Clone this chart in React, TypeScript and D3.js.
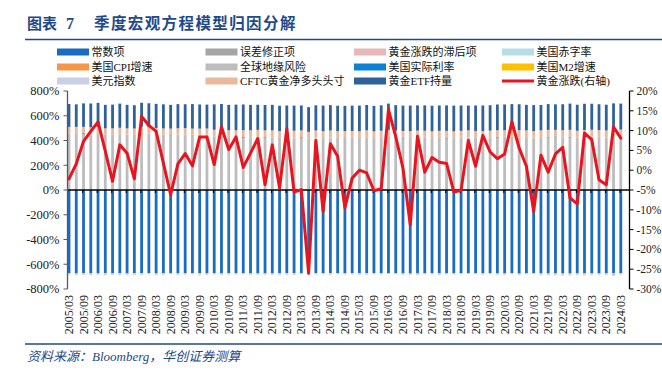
import React from "react";
import * as d3 from "d3";

const quarters = [
  "2005/03","2005/06","2005/09","2005/12","2006/03","2006/06","2006/09","2006/12",
  "2007/03","2007/06","2007/09","2007/12","2008/03","2008/06","2008/09","2008/12",
  "2009/03","2009/06","2009/09","2009/12","2010/03","2010/06","2010/09","2010/12",
  "2011/03","2011/06","2011/09","2011/12","2012/03","2012/06","2012/09","2012/12",
  "2013/03","2013/06","2013/09","2013/12","2014/03","2014/06","2014/09","2014/12",
  "2015/03","2015/06","2015/09","2015/12","2016/03","2016/06","2016/09","2016/12",
  "2017/03","2017/06","2017/09","2017/12","2018/03","2018/06","2018/09","2018/12",
  "2019/03","2019/06","2019/09","2019/12","2020/03","2020/06","2020/09","2020/12",
  "2021/03","2021/06","2021/09","2021/12","2022/03","2022/06","2022/09","2022/12",
  "2023/03","2023/06","2023/09","2023/12","2024/03",
];

// 黄金涨跌(右轴), %
const goldReturn = [
  -2.2, 1.6, 7.3, 9.8, 12.2, 4.8, -2.8, 6.4, 4.3, -2.2,
  13.6, 11.3, 9.8, 1.8, -6.2, 1.6, 4.2, 1.1, 8.4, 8.4,
  1.4, 10.9, 5.2, 8.4, 0.7, 4.3, 8.0, -3.7, 6.4, -4.5,
  10.5, -5.5, -4.9, -26.0, 7.5, -10.4, 6.7, 3.5, -9.5, -2.0,
  0.0, -0.7, -5.2, -4.7, 15.3, 8.5, 0.5, -13.8, 8.6, -0.5,
  3.2, 2.0, 1.7, -5.5, -5.1, 7.5, 1.0, 8.8, 4.6, 2.9,
  4.1, 12.2, 5.6, 1.0, -10.4, 3.8, -0.5, 4.1, 5.8, -7.0,
  -8.5, 9.4, 7.7, -2.4, -3.7, 10.9, 8.1,
];

// 常数项
const constTerm = [
  -672, -672, -672, -672, -672, -672, -672, -672, -672, -672,
  -672, -672, -672, -672, -672, -672, -672, -672, -672, -672,
  -672, -672, -672, -672, -672, -672, -672, -672, -672, -672,
  -672, -672, -672, -672, -672, -672, -672, -672, -672, -672,
  -672, -672, -672, -672, -672, -672, -672, -672, -672, -672,
  -672, -672, -672, -672, -672, -672, -672, -672, -672, -672,
  -672, -672, -672, -672, -672, -672, -672, -672, -672, -672,
  -672, -672, -672, -672, -672, -672, -672,
];

// 误差修正项
const errorCorr = [
  2, 3, 2, 1, 2, 3, 2, 2, 1, 2,
  3, 2, 2, 1, 2, 2, 3, 2, 1, 2,
  2, 3, 2, 2, 1, 2, 2, 3, 2, 1,
  2, 2, 3, 2, 2, 1, 2, 2, 3, 2,
  1, 2, 2, 3, 2, 2, 1, 2, 2, 3,
  2, 1, 2, 2, 3, 2, 2, 1, 2, 2,
  3, 2, 1, 2, 2, 3, 2, 2, 1, 2,
  2, 3, 2, 2, 1, 2, 2,
];

// 黄金涨跌的滞后项
const lagTerm = [
  1, 2, 1, 2, 3, 1, 2, 1, 2, 1,
  3, 2, 1, 2, 1, 2, 1, 2, 2, 1,
  2, 1, 2, 1, 2, 1, 2, 1, 2, 1,
  2, 1, 1, 2, 1, 2, 1, 2, 1, 2,
  1, 2, 1, 2, 3, 2, 1, 2, 1, 2,
  1, 2, 1, 2, 1, 2, 1, 2, 1, 2,
  1, 2, 1, 2, 1, 2, 1, 2, 1, 2,
  1, 2, 1, 2, 1, 2, 1,
];

// 美国赤字率
const deficit = [
  -3, 0, -3, 0, 0, -3, 0, -3, 0, -3,
  -6, 0, 0, -3, 0, 0, -3, 0, -6, 0,
  0, 0, -3, 0, 0, 0, 0, 0, 0, -6,
  -6, -6, 0, -3, 0, 0, -6, 0, 0, 0,
  -3, -6, 0, 0, 0, 0, 0, 0, 0, 0,
  0, -6, 0, 0, 0, 0, 0, 0, 0, 0,
  0, 0, 0, 0, 0, 0, 0, 0, 0, 0,
  0, 0, 0, 0, 0, -5, 0,
];

// 美国CPI增速
const cpi = [
  0, -5, 0, -5, -5, 0, -4, 0, -5, 0,
  0, 0, -5, 0, 0, -4, 0, 0, 0, -5,
  0, -5, 0, 0, 0, -5, -5, -4, -5, 0,
  0, 0, 0, 0, 0, 0, 0, 0, 0, 0,
  0, 0, 0, 0, 0, 0, -5, -6, -5, 0,
  0, 0, 0, 0, 0, 0, 0, 0, 0, -4,
  -5, 0, -7, 0, 0, -5, -5, -5, -6, -6,
  -5, -4, -4, -4, -3, -3, -3,
];

// 全球地缘风险
const geoRisk = [
  450, 448, 452, 451, 454, 446, 444, 448, 445, 442,
  449, 448, 448, 444, 440, 445, 444, 442, 443, 444,
  428, 426, 423, 422, 420, 418, 420, 417, 416, 419,
  421, 415, 417, 414, 415, 416, 416, 417, 416, 418,
  417, 416, 416, 418, 423, 421, 415, 417, 416, 418,
  416, 418, 414, 415, 418, 420, 419, 417, 422, 420,
  426, 425, 421, 423, 415, 422, 422, 423, 421, 421,
  421, 426, 428, 425, 423, 429, 431,
];

// 美国实际利率
const realRate = [
  0, 2, 5, 0, 0, 0, 0, 0, 0, 0,
  4, 0, 0, 0, 5, 0, 0, 0, 0, 0,
  0, 0, 0, 0, 5, 0, 0, 5, 0, 0,
  0, 0, 5, 0, 0, 0, 0, 0, 0, 0,
  0, 0, 0, 0, 0, 0, 4, 0, 0, 0,
  0, 0, 5, 0, 0, 0, 0, 0, 0, 5,
  0, 0, 0, 0, 0, 0, 5, 5, 0, 5,
  0, 0, 0, 0, 0, -4, 0,
];

// 美国M2增速
const m2Growth = [
  5, 0, 0, 0, 0, 0, 0, 0, 0, 0,
  4, 4, 0, 0, 0, 0, 0, 0, -5, 0,
  0, 0, 0, 0, 0, 5, 4, 0, 5, 0,
  0, 5, 0, 0, 5, 0, 5, 0, 0, 0,
  0, 5, 0, 0, 0, 0, 0, 0, 4, 0,
  0, 0, 0, 0, 0, 0, 0, -5, 0, 0,
  0, 5, 4, 0, 5, 0, 0, 0, 5, 0,
  0, -6, -5, 0, 0, 0, 0,
];

// 美元指数
const dollarIndex = [
  -10, -12, -12, -10, -8, -14, -10, -12, -10, -13,
  -9, -10, -11, -12, -10, -12, -11, -10, -8, -10,
  -11, -9, -10, -12, -10, -9, -8, -10, -9, -10,
  -8, -9, -10, -12, -11, -10, -9, -10, -12, -10,
  -11, -8, -10, -11, -9, -10, -8, -9, -10, -11,
  -10, -9, -11, -12, -10, -9, -10, -8, -10, -9,
  -10, -9, -8, -10, -9, -12, -11, -12, -14, -13,
  -10, -9, -8, -10, -11, -9, -8,
];

// CFTC黄金净多头头寸
const cftc = [
  52, 55, 50, 53, 50, 48, 50, 52, 50, 52,
  50, 52, 50, 50, 48, 50, 52, 50, 50, 50,
  55, 57, 56, 58, 55, 56, 58, 56, 57, 55,
  58, 56, 55, 52, 58, 56, 57, 55, 56, 55,
  56, 57, 55, 56, 58, 55, 56, 55, 57, 56,
  55, 57, 56, 55, 56, 58, 55, 56, 55, 54,
  53, 55, 56, 55, 53, 55, 56, 54, 55, 56,
  55, 54, 56, 55, 56, 55, 54,
];

// 黄金ETF持量
const etfHoldings = [
  185, 182, 190, 192, 195, 190, 192, 195, 190, 188,
  192, 193, 195, 195, 192, 195, 193, 198, 195, 193,
  205, 208, 205, 207, 208, 206, 203, 205, 206, 205,
  200, 203, 202, 200, 203, 207, 205, 205, 204, 205,
  207, 205, 206, 205, 212, 206, 205, 206, 204, 205,
  207, 205, 206, 208, 205, 200, 206, 207, 205, 208,
  208, 205, 210, 206, 210, 205, 208, 206, 210, 212,
  210, 212, 210, 209, 208, 212, 210,
];

const leftTicks = [-800, -600, -400, -200, 0, 200, 400, 600, 800];
const rightTicks = [-30, -25, -20, -15, -10, -5, 0, 5, 10, 15, 20];

const seriesDefs = [
  { key: "常数项", data: constTerm, color: "#1A6CC3" },
  { key: "误差修正项", data: errorCorr, color: "#A5A5A5" },
  { key: "黄金涨跌的滞后项", data: lagTerm, color: "#E6B9B8" },
  { key: "美国赤字率", data: deficit, color: "#B7DEE8" },
  { key: "美国CPI增速", data: cpi, color: "#F79646" },
  { key: "全球地缘风险", data: geoRisk, color: "#BDBDBD" },
  { key: "美国实际利率", data: realRate, color: "#0C82D2" },
  { key: "美国M2增速", data: m2Growth, color: "#FFC000" },
  { key: "美元指数", data: dollarIndex, color: "#C9D0E6" },
  { key: "CFTC黄金净多头头寸", data: cftc, color: "#EAB99D" },
  { key: "黄金ETF持量", data: etfHoldings, color: "#30629A" },
];
const lineLabel = "黄金涨跌(右轴)";
const lineColor = "#E8141E";

const W = 662;
const H = 375;
const PL = 67.5;
const PR = 629.5;
const PT = 91;
const PB = 289;
const SERIF = '"Times New Roman", "Liberation Serif", "Noto Sans CJK SC", serif';
const CJK = '"Liberation Serif", "Noto Sans CJK SC", serif';
const NAVY = "#1F4A8A";

export default function App() {
  const x = d3.scalePoint<string>().domain(quarters).range([69, 620.8]);
  const yL = d3.scaleLinear().domain([-800, 800]).range([PB, PT]);
  const yR = d3.scaleLinear().domain([-30, 20]).range([PB, PT]);

  const table = quarters.map((q, i) => {
    const row: Record<string, any> = { q };
    seriesDefs.forEach((s) => (row[s.key] = s.data[i]));
    return row;
  });
  const stacked = d3
    .stack<Record<string, any>>()
    .keys(seriesDefs.map((s) => s.key))
    .offset(d3.stackOffsetDiverging)(table);

  const barW = 2.8;
  const line = d3
    .line<number>()
    .x((_, i) => x(quarters[i]) as number)
    .y((d) => yR(d));

  const legendCols = [57, 205.5, 354, 502];
  const legendRows = [52, 67, 81];
  const legendItems = [
    ...seriesDefs.map((s) => ({ label: s.key, color: s.color, type: "rect" })),
    { label: lineLabel, color: lineColor, type: "line" },
  ];

  return (
    <svg
      width={W}
      height={H}
      style={{ position: "absolute", left: 0, top: 0, background: "#fff" }}
    >
      {/* Title */}
      <text x={27} y={29} fontFamily={CJK} fontSize={15} fontWeight="bold" fill={NAVY}>
        图表
      </text>
      <text x={66} y={29} fontFamily={SERIF} fontSize={16} fontWeight="bold" fill={NAVY}>
        7
      </text>
      <text x={94} y={29} fontFamily={CJK} fontSize={15.5} fontWeight="bold" fill={NAVY} letterSpacing={1.4}>
        季度宏观方程模型归因分解
      </text>
      <line x1={25} x2={662} y1={39.5} y2={39.5} stroke={NAVY} strokeWidth={1.6} />

      {/* Legend */}
      {legendItems.map((it, i) => {
        const cx = legendCols[i % 4];
        const cy = legendRows[Math.floor(i / 4)];
        return (
          <g key={it.label}>
            {it.type === "rect" ? (
              <rect x={cx} y={cy - 3.5} width={32} height={7} fill={it.color} />
            ) : (
              <line x1={cx} x2={cx + 32} y1={cy} y2={cy} stroke={it.color} strokeWidth={3} />
            )}
            <text
              x={cx + 34.5}
              y={cy}
              dy="0.36em"
              fontFamily={CJK}
              fontSize={11}
              fill="#111"
            >
              {it.label}
            </text>
          </g>
        );
      })}

      {/* Bars */}
      {stacked.map((layer, si) => (
        <g key={layer.key} fill={seriesDefs[si].color}>
          {layer.map((d, i) => {
            const y0 = yL(d[0]);
            const y1 = yL(d[1]);
            const h = Math.abs(y0 - y1);
            if (h <= 0) return null;
            return (
              <rect
                key={i}
                x={(x(quarters[i]) as number) - barW / 2}
                y={Math.min(y0, y1)}
                width={barW}
                height={h}
              />
            );
          })}
        </g>
      ))}

      {/* Zero / category axis */}
      <line x1={PL} x2={PR} y1={yL(0)} y2={yL(0)} stroke="#000" strokeWidth={1.4} />
      {quarters.map((q, i) =>
        i % 2 === 0 && i > 0 ? (
          <line
            key={q}
            x1={(x(q) as number) - 0.8}
            x2={(x(q) as number) - 0.8}
            y1={yL(0)}
            y2={yL(0) + 3}
            stroke="#000"
            strokeWidth={1}
          />
        ) : null
      )}

      {/* Left axis */}
      <line x1={PL} x2={PL} y1={PT} y2={PB} stroke="#595959" strokeWidth={1.3} />
      {leftTicks.map((t) => (
        <g key={t}>
          <line x1={PL - 4} x2={PL} y1={yL(t)} y2={yL(t)} stroke="#595959" strokeWidth={1} />
          <text
            x={PL - 8}
            y={yL(t)}
            dy="0.35em"
            textAnchor="end"
            fontFamily={SERIF}
            fontSize={12.5}
            fill="#222"
          >
            {t + "%"}
          </text>
        </g>
      ))}

      {/* Right axis */}
      <line x1={PR} x2={PR} y1={PT} y2={PB} stroke="#000" strokeWidth={1.3} />
      {rightTicks.map((t) => (
        <g key={t}>
          <line x1={PR} x2={PR + 4} y1={yR(t)} y2={yR(t)} stroke="#000" strokeWidth={1} />
          <text
            x={PR + 7}
            y={yR(t)}
            dy="0.35em"
            fontFamily={SERIF}
            fontSize={11.5}
            fill="#222"
          >
            {t + "%"}
          </text>
        </g>
      ))}

      {/* X labels */}
      {quarters.map((q, i) =>
        i % 2 === 0 ? (
          <text
            key={q}
            transform={`translate(${(x(q) as number) + 4},295) rotate(-90)`}
            textAnchor="end"
            fontFamily={SERIF}
            fontSize={12}
            fill="#222"
          >
            {q}
          </text>
        ) : null
      )}

      {/* Gold return line */}
      <path
        d={line(goldReturn) || ""}
        fill="none"
        stroke={lineColor}
        strokeWidth={3}
        strokeLinejoin="round"
        strokeLinecap="round"
      />

      {/* Footer */}
      <line x1={25} x2={662} y1={344} y2={344} stroke={NAVY} strokeWidth={1.6} />
      <text
        x={27}
        y={361}
        fontFamily={'"Times New Roman", "Liberation Serif", "Noto Sans CJK SC", serif'}
        fontSize={13}
        fontStyle="italic"
        fill={NAVY}
      >
        资料来源：Bloomberg，华创证券测算
      </text>
    </svg>
  );
}
